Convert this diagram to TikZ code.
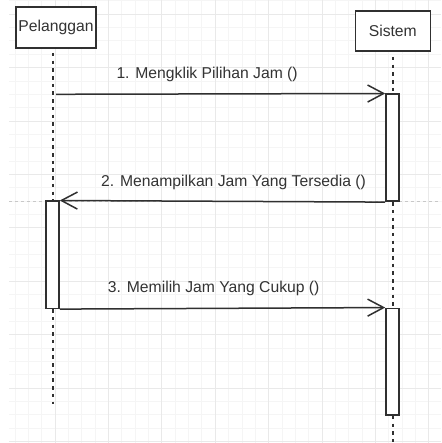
\documentclass[tikz,border=0pt]{standalone}
\usepackage{fontspec}
\setmainfont{Liberation Sans}
\usepackage{tikz}
\usetikzlibrary{arrows.meta}

\definecolor{linegray}{HTML}{303030}
\definecolor{textgray}{HTML}{333333}
\definecolor{gridlight}{HTML}{F5F5F5}
\definecolor{griddark}{HTML}{E9E9E9}
\definecolor{guidegray}{HTML}{C8C8C8}

\tikzset{
  actor/.style={draw=linegray, line width=1.6pt, fill=white, text=textgray, inner sep=1pt},
  actbar/.style={draw=linegray, line width=1.6pt, fill=white, minimum width=13pt, inner sep=0pt},
  lifeline/.style={draw=linegray, line width=2pt, dash pattern=on 3.5pt off 4.2pt},
  msg/.style={draw=linegray, line width=1.5pt, -{Straight Barb[length=16pt,width=17pt]}},
  msglabel/.style={text=textgray, inner sep=0pt},
  gridminor/.style={draw=gridlight, line width=0.8pt},
  gridmajor/.style={draw=griddark, line width=0.8pt},
  guide/.style={draw=guidegray, line width=0.7pt, dash pattern=on 3pt off 3pt}
}

\begin{document}
\begin{tikzpicture}[x=1pt, y=-1pt, font=\fontsize{15.7}{18}\selectfont]
  \useasboundingbox (0,0) rectangle (441,443);
  \fill[white] (0,0) rectangle (441,443);

  % background grid
  \begin{scope}
    \clip (9,0) rectangle (441,443);
    \foreach \i in {0,...,32} \draw[gridminor] ({1.6+13.35*\i},0) -- ++(0,443);
    \foreach \j in {0,...,33} \draw[gridminor] (9,{0.85+13.35*\j}) -- ++(432,0);
    \foreach \i in {1,...,8} \draw[gridmajor] ({1.6+53.4*\i},0) -- ++(0,443);
    \foreach \j in {0,...,8} \draw[gridmajor] (9,{14.2+53.4*\j}) -- ++(432,0);
  \end{scope}
  \draw[guide] (9,201.3) -- (441,201.3);

  % actors
  \node[actor, minimum width=80pt, minimum height=41pt] (pel) at (56,27.5) {Pelanggan};
  \node[actor, minimum width=75pt, minimum height=40pt] (sis) at (392.8,31) {Sistem};

  % activation bars
  \node[actbar, minimum height=107pt] (actA) at (392.5,147.8) {};
  \node[actbar, minimum height=107pt] (actB) at (52.5,254.8) {};
  \node[actbar, minimum height=106.7pt] (actC) at (392.5,361.7) {};

  \coordinate (pelTop) at (52.5,53);
  \coordinate (pelEnd) at (52.5,404);
  \coordinate (sisTop) at (392.5,57);
  \coordinate (sisEnd) at (392.5,443);
  \coordinate (src) at (56,94.3);

  % lifelines
  \draw[lifeline] (pelTop) -- (actB.north);
  \draw[lifeline] (actB.south) -- (pelEnd);
  \draw[lifeline] (sisTop) -- (actA.north);
  \draw[lifeline] (actA.south) -- (actC.north);
  \draw[lifeline] (actC.south) -- (sisEnd);

  % messages
  \path
  (src) edge [msg] node [msglabel, pos=0.459, yshift=19.3pt] {1. Mengklik Pilihan Jam ()} (actA.north west)
  (actA.south west) edge [msg] node [msglabel, pos=0.466, yshift=19.3pt] {2. Menampilkan Jam Yang Tersedia ()} (actB.north east)
  (actB.south east) edge [msg] node [msglabel, pos=0.473, yshift=19.7pt] {3. Memilih Jam Yang Cukup ()} (actC.north west)
  ;
\end{tikzpicture}
\end{document}
